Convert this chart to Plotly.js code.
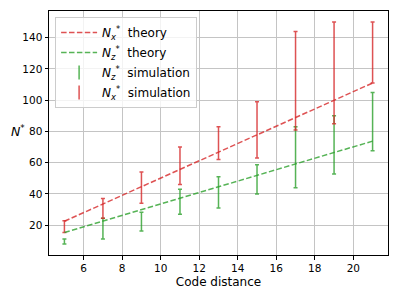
<!DOCTYPE html>
<html>
<head>
<meta charset="utf-8">
<script src="https://cdn.plot.ly/plotly-3.0.1.min.js"></script>
<style>html,body{margin:0;padding:0;background:#fff;}#chart{width:399px;height:299px;}</style>
</head>
<body>
<div id="chart"></div>
<script>
const distances = [5, 7, 9, 11, 13, 15, 17, 19, 21];
const nxTheory = [22.5, 33.6, 44.6, 55.7, 66.8, 77.9, 88.9, 100.0, 111.0];
const nzTheory = [15.3, 22.6, 29.9, 37.2, 44.6, 51.9, 59.2, 66.5, 73.8];
const nxSimLow = [15.3, 24.5, 34, 46, 62, 63, 81, 85, 111];
const nxSimHigh = [22.9, 37, 54, 70, 83, 99, 144, 150, 150];
const nzSimLow = [8, 11.2, 16.2, 27, 31, 40, 44, 52.7, 67.6];
const nzSimHigh = [11.2, 24.5, 28.3, 43, 51, 58.7, 83, 90, 105];
const xTicks = [6, 8, 10, 12, 14, 16, 18, 20];
const yTicks = [20, 40, 60, 80, 100, 120, 140];

const RED = 'rgba(214,39,40,0.8)';
const GREEN = 'rgba(44,160,44,0.8)';
const FONT = 'DejaVu Sans, sans-serif';

function mid(lo, hi) { return lo.map((v, i) => (v + hi[i]) / 2); }
function half(lo, hi) { return lo.map((v, i) => (hi[i] - v) / 2); }

function simTrace(lo, hi, color) {
  return {
    x: distances, y: mid(lo, hi), type: 'scatter', mode: 'markers',
    marker: {size: 0.1, color: 'rgba(0,0,0,0)'},
    error_y: {type: 'data', symmetric: true, array: half(lo, hi), color: color, thickness: 1.5, width: 2},
    showlegend: false, hoverinfo: 'skip'
  };
}
function legendOnly(name, color, group) {
  return {
    x: [null], y: [null], type: 'scatter', mode: 'markers', name: name, legendgroup: group,
    marker: {symbol: 'line-ns-open', size: 10, color: color, line: {color: color, width: 1.5}}
  };
}

const traces = [
  simTrace(nzSimLow, nzSimHigh, GREEN),
  simTrace(nxSimLow, nxSimHigh, RED),
  {x: distances, y: nxTheory, type: 'scatter', mode: 'lines', name: '<i>N</i><sub><i>x</i></sub><sup>*</sup>  theory',
   legendgroup: 'a', line: {color: RED, width: 1.5, dash: '5.5px,2.4px'}},
  {x: distances, y: nzTheory, type: 'scatter', mode: 'lines', name: '<i>N</i><sub><i>z</i></sub><sup>*</sup>  theory',
   legendgroup: 'b', line: {color: GREEN, width: 1.5, dash: '5.5px,2.4px'}},
  legendOnly('<i>N</i><sub><i>z</i></sub><sup>*</sup>  simulation', GREEN, 'c'),
  legendOnly('<i>N</i><sub><i>x</i></sub><sup>*</sup>  simulation', RED, 'd')
];

const axisCommon = {
  showline: true, mirror: true, linecolor: '#000', linewidth: 1,
  ticks: 'outside', ticklen: 3.5, tickwidth: 1, tickcolor: '#000',
  showgrid: true, gridcolor: '#c4c4c4', gridwidth: 1, zeroline: false,
  tickfont: {family: FONT, size: 10.5, color: '#000'}
};

const layout = {
  width: 399, height: 299,
  margin: {l: 49, r: 11, t: 11, b: 44},
  paper_bgcolor: '#fff', plot_bgcolor: '#fff',
  font: {family: FONT, color: '#000'},
  xaxis: Object.assign({}, axisCommon, {range: [4.2, 21.8], tickvals: xTicks,
    title: {text: 'Code distance', font: {family: FONT, size: 12, color: '#000'}, standoff: 4}}),
  yaxis: Object.assign({}, axisCommon, {range: [0.9, 157.1], tickvals: yTicks}),
  legend: {x: 0.018, y: 0.975, xanchor: 'left', yanchor: 'top', traceorder: 'grouped',
    bgcolor: 'rgba(255,255,255,0.8)', bordercolor: '#cccccc', borderwidth: 1,
    font: {family: FONT, size: 12, color: '#000'}, itemwidth: 36, tracegroupgap: 1},
  annotations: [{text: '<i>N</i><sup>*</sup>', xref: 'paper', yref: 'paper', x: -0.065, y: 0.51,
    xanchor: 'right', yanchor: 'middle', showarrow: false, font: {family: FONT, size: 12.5, color: '#000'}}],
  showlegend: true
};

Plotly.newPlot('chart', traces, layout, {displayModeBar: false, staticPlot: true});
</script>
</body>
</html>
